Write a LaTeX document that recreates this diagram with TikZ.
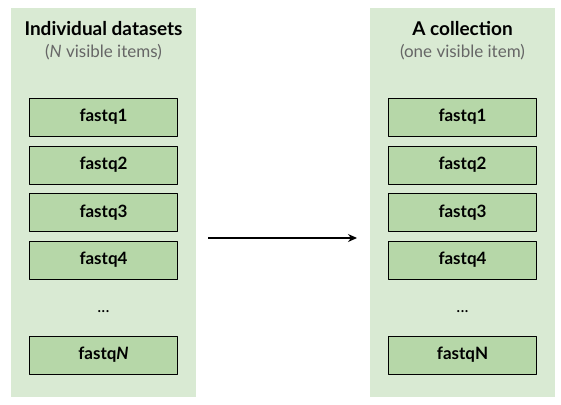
\documentclass[tikz,border=0pt]{standalone}
\usepackage{fontspec}
\setmainfont{Lato}
\usetikzlibrary{positioning,arrows.meta}
\definecolor{panelgreen}{HTML}{D9EAD3}
\definecolor{boxgreen}{HTML}{B6D7A8}
\definecolor{subgray}{HTML}{666666}
\tikzset{
	panel/.style={fill=panelgreen, minimum width=185, minimum height=389, inner sep=0},
	itembox/.style={draw=black, fill=boxgreen, line width=0.9pt, minimum width=148, minimum height=38, inner sep=0, font=\fontsize{17}{20}\selectfont\bfseries},
	title/.style={font=\fontsize{19}{22}\selectfont\bfseries},
	subtitle/.style={text=subgray, font=\fontsize{17}{20}\selectfont},
}
\begin{document}
\begin{tikzpicture}[x=1pt, y=-1pt, line join=round, >={Stealth[length=9pt,width=8pt]}]
	\useasboundingbox (0,0) rectangle (561,404);
	%Hai khung nền.
	\node[panel] (left) at (103.5,202.5) {};
	\node[panel] (right) at (462.5,202.5) {};
	%Tiêu đề.
	\node[title] (ltitle) at (103.5,29) {Individual datasets};
	\node[subtitle, below=1pt of ltitle] (lsub) {(\textit{N} visible items)};
	\node[title] (rtitle) at (462.5,29) {A collection};
	\node[subtitle, below=1pt of rtitle] (rsub) {(one visible item)};
	%Các tập dữ liệu.
	\foreach \i/\y in {1/117,2/165,3/212.5,4/260}{
			\node[itembox] (l\i) at (103.5,\y) {fastq\i};
			\node[itembox] (r\i) at (462.5,\y) {fastq\i};
		}
	\node[itembox] (lN) at (103.5,355) {fastq\textit{N}};
	\node[itembox] (rN) at (462.5,355) {fastqN};
	\node[font=\fontsize{17}{20}\selectfont] (ldots) at (103.5,312) {...};
	\node[font=\fontsize{17}{20}\selectfont] (rdots) at (462.5,312) {...};
	%Mũi tên.
	\coordinate (start) at (208,238);
	\coordinate (end) at (357,238);
	\draw[->, line width=1.3pt] (start)--(end);
\end{tikzpicture}
\end{document}
